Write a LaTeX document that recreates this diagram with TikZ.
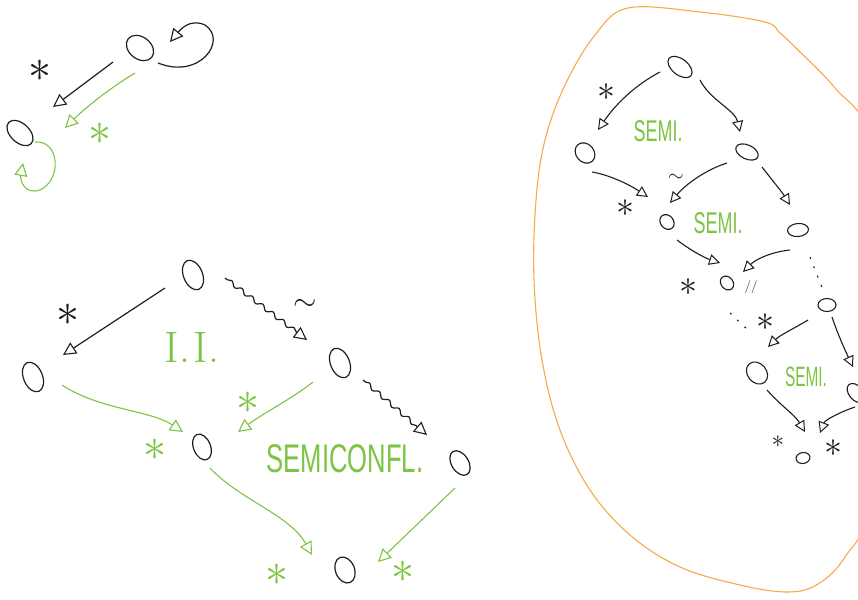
\documentclass[tikz,border=0pt]{standalone}
\usepackage{fontspec}
\newfontfamily\hand{Liberation Sans}
\usetikzlibrary{arrows.meta,shapes.geometric,decorations.pathmorphing}
\definecolor{grn}{RGB}{125,196,66}
\definecolor{org}{RGB}{246,170,72}
\definecolor{ink}{RGB}{30,30,30}
\tikzset{
  x=1pt,y=1pt,
  obj/.style={draw=ink, ellipse, line width=1.2pt, minimum width=19pt, minimum height=31pt, inner sep=0pt, rotate=22},
  sobj/.style={draw=ink, ellipse, line width=1.1pt, minimum width=12pt, minimum height=16pt, inner sep=0pt, rotate=40},
  tri/.style={-{Triangle[open,length=13pt,width=13pt,line width=1.1pt]}},
  stri/.style={-{Triangle[open,length=11pt,width=11pt,line width=1pt]}},
  blk/.style={draw=ink,line width=1.2pt,tri},
  gr/.style={draw=grn,line width=1.1pt,tri},
  rblk/.style={draw=ink,line width=1.1pt,stri},
  sq/.style={decorate,decoration={snake,amplitude=2pt,segment length=13pt,pre length=3pt,post length=13pt}},
  star/.style={scale=4.6, inner sep=0pt, text=ink},
  sstar/.style={scale=3.6, inner sep=0pt, text=ink},
  gstar/.style={star, text=grn},
  note/.style={text=grn, inner sep=0pt},
}
\begin{document}
\begin{tikzpicture}
\fill[white] (0,0) rectangle (858,-599);
\useasboundingbox (0,0) rectangle (858,-599);
\clip (0,0) rectangle (858,-599);

% orange blob
\draw[org, line width=1.1pt] plot[smooth cycle, tension=0.6] coordinates {
  (628,-8) (700,-12) (765,-22) (780,-33) (800,-52) (835,-88) (872,-140)
  (905,-300) (872,-500) (845,-557) (818,-584) (788,-592) (740,-585)
  (680,-567) (630,-535) (590,-490) (560,-430) (542,-360) (534,-280)
  (536,-200) (545,-140) (565,-85) (595,-35)};

% ---------- top-left ----------
\node[obj, minimum width=22pt, minimum height=30pt, rotate=30] (A) at (140,-48) {};
\node[obj, rotate=25] (B) at (20,-133) {};
\draw[blk] ([shift={(-27,-14)}]A.center) -- ([shift={(33,26)}]B.center);
\node[star] (s1) at (40,-71) {$\ast$};
\draw[gr] ([shift={(-5,-25)}]A.center) .. controls (110,-88) and (85,-108) .. ([shift={(45,5)}]B.center);
\node[gstar] (s2) at (100,-134) {$\ast$};
\draw[blk] ([shift={(18,-15)}]A.center) .. controls (200,-80) and (228,-40) .. (205,-25)
   .. controls (190,-18) and (180,-30) .. ([shift={(30,6)}]A.center);
\draw[gr] ([shift={(15,-9)}]B.center) .. controls (60,-140) and (62,-180) .. (40,-190)
   .. controls (24,-195) and (20,-180) .. ([shift={(3,-30)}]B.center);

% ---------- bottom-left ----------
\node[obj] (T) at (193,-275) {};
\node[obj] (L) at (33,-377) {};
\node[obj] (R) at (340,-363) {};
\node[obj, minimum width=17pt, minimum height=27pt] (M) at (202,-447) {};
\node[obj, minimum width=17pt, minimum height=27pt, rotate=10] (FR) at (460,-463) {};
\node[obj, minimum width=19pt, minimum height=27pt] (Bt) at (345,-570) {};

\draw[blk] ([shift={(-28,-13)}]T.center) -- ([shift={(30,22)}]L.center);
\node[star] (s3) at (68,-315) {$\ast$};
\draw[blk, sq] ([shift={(32,-3)}]T.center) -- ([shift={(-33,23)}]R.center);
\node[text=ink, scale=3, inner sep=0pt] (w1) at (305,-305) {$\sim$};
\draw[blk, sq] ([shift={(23,-17)}]R.center) -- ([shift={(-33,28)}]FR.center);

\draw[gr] ([shift={(29,-8)}]L.center) .. controls (100,-410) and (150,-410) .. ([shift={(-19,15)}]M.center);
\node[gstar] (s4) at (155,-450) {$\ast$};
\draw[gr] ([shift={(-27,-19)}]R.center) .. controls (290,-400) and (265,-412) .. ([shift={(36,15)}]M.center);
\node[gstar] (s5) at (248,-403) {$\ast$};
\node[note, font=\fontfamily{lmr}\fontsize{44}{44}\selectfont] (ii) at (192,-347) {I.\hspace{4pt}I.};
\node[note, font=\hand\fontsize{40}{40}\selectfont, xscale=0.64] (semiconfl) at (345,-459) {SEMICONFL.};
\draw[gr] ([shift={(8,-21)}]M.center) .. controls (240,-500) and (290,-515) .. ([shift={(-33,15)}]Bt.center);
\node[gstar] (s6) at (277,-575) {$\ast$};
\draw[gr] ([shift={(-5,-25)}]FR.center) -- ([shift={(33,8)}]Bt.center);
\node[gstar] (s7) at (403,-572) {$\ast$};

% ---------- right tree ----------
\node[sobj, minimum width=16pt, minimum height=28pt, rotate=12] (r1) at (680,-67) {};
\node[sobj, minimum width=18pt, minimum height=22pt] (r2) at (585,-153) {};
\node[sobj, minimum width=14pt, minimum height=24pt, rotate=25] (r3) at (747,-152) {};
\node[sobj, minimum width=13pt, minimum height=16pt] (r4) at (667,-222) {};
\node[sobj, minimum width=13pt, minimum height=21pt, rotate=55] (r5) at (798,-230) {};
\node[sobj, minimum width=12pt, minimum height=15pt] (r6) at (727,-283) {};
\node[sobj, minimum width=13pt, minimum height=18pt, rotate=50] (r7) at (827,-305) {};
\node[sobj, minimum width=19pt, minimum height=24pt] (r8) at (757,-373) {};
\node[sobj, minimum width=14pt, minimum height=22pt] (r9) at (856,-393) {};
\node[sobj, minimum width=11pt, minimum height=14pt, rotate=60] (r10) at (803,-458) {};

\draw[rblk] ([shift={(-20,-5)}]r1.center) .. controls (635,-85) and (615,-105) .. ([shift={(13,23)}]r2.center);
\node[sstar] (t1) at (606,-92) {$\ast$};
\draw[rblk] ([shift={(20,-13)}]r1.center) .. controls (710,-100) and (735,-110) .. ([shift={(-7,20)}]r3.center);
\node[note, font=\hand\fontsize{30}{30}\selectfont, xscale=0.6] (sem1) at (658,-131) {SEMI.};
\draw[rblk] ([shift={(7,-19)}]r2.center) .. controls (610,-175) and (630,-185) .. ([shift={(-19,25)}]r4.center);
\node[sstar] (t2) at (625,-208) {$\ast$};
\draw[rblk] ([shift={(-20,-11)}]r3.center) .. controls (705,-170) and (685,-185) .. ([shift={(3,19)}]r4.center);
\node[text=ink, scale=2, inner sep=0pt] (w2) at (676,-178) {$\sim$};
\draw[rblk] ([shift={(15,-15)}]r3.center) .. controls (772,-180) and (782,-192) .. ([shift={(-8,25)}]r5.center);
\node[note, font=\hand\fontsize{30}{30}\selectfont, xscale=0.6] (sem2) at (718,-223) {SEMI.};
\draw[rblk] ([shift={(10,-18)}]r4.center) .. controls (690,-250) and (705,-258) .. ([shift={(-7,20)}]r6.center);
\draw[rblk] ([shift={(-8,-20)}]r5.center) .. controls (770,-252) and (755,-260) .. ([shift={(16,11)}]r6.center);
\node[sstar] (t3) at (688,-287) {$\ast$};
\node[text=ink, font=\fontsize{13}{13}\selectfont, inner sep=0pt] (w3) at (751,-287) {//};
\draw[ink, line width=1.1pt, dash pattern=on 2pt off 8pt] ([shift={(12,-27)}]r5.center) -- ([shift={(-4,15)}]r7.center);
\draw[ink, line width=1.1pt, dash pattern=on 2pt off 8pt] ([shift={(3,-30)}]r6.center) -- ([shift={(-7,41)}]r8.center);
\draw[rblk] ([shift={(-19,-15)}]r7.center) .. controls (795,-328) and (780,-335) .. ([shift={(11,26)}]r8.center);
\node[sstar] (t4) at (765,-322) {$\ast$};
\draw[rblk] ([shift={(5,-12)}]r7.center) .. controls (838,-335) and (845,-350) .. ([shift={(-3,26)}]r9.center);
\node[note, font=\hand\fontsize{28}{28}\selectfont, xscale=0.55] (sem3) at (806,-377) {SEMI.};
\draw[rblk] ([shift={(10,-17)}]r8.center) .. controls (780,-405) and (795,-415) .. ([shift={(2,26)}]r10.center);
\draw[rblk] ([shift={(-1,-14)}]r9.center) .. controls (840,-412) and (825,-420) .. ([shift={(17,25)}]r10.center);
\node[sstar, scale=0.7] (t5) at (778,-442) {$\ast$};
\node[sstar] (t6) at (833,-448) {$\ast$};
\end{tikzpicture}
\end{document}
